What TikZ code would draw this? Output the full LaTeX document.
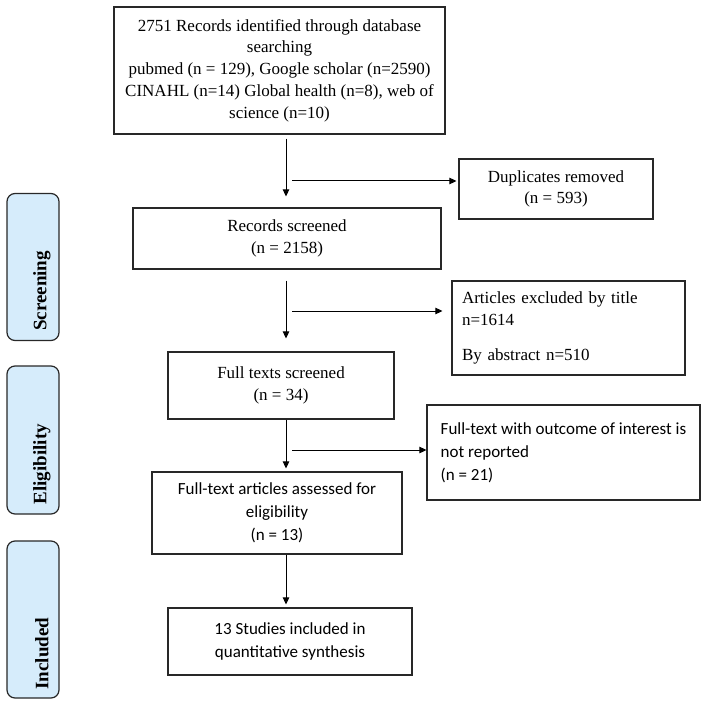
\documentclass[tikz,border=0pt]{standalone}
\usepackage{fontspec}
\setmainfont{Liberation Serif}
\newfontfamily\calibri{Carlito}
\usepackage{tikz}
\usetikzlibrary{arrows.meta}
\usetikzlibrary{positioning}
\definecolor{sideblue}{RGB}{214,236,251}
\definecolor{boxline}{RGB}{40,40,40}

\begin{document}
\begin{tikzpicture}[x=1pt, y=-1pt,
    box/.style={draw=boxline, line width=1.2pt, fill=white, inner sep=0pt,
      align=center, font=\fontsize{17}{21.7}\selectfont},
    cbox/.style={box, font=\calibri\fontsize{17}{22.8}\selectfont},
    side/.style={draw=boxline, line width=1.2pt, fill=sideblue,
      rounded corners=8pt, minimum width=52pt},
    sidetext/.style={rotate=90, anchor=west, inner sep=0pt,
      font=\bfseries\fontsize{19}{22}\selectfont},
    arr/.style={-{Triangle[length=7pt,width=6.5pt]}, line width=1pt}]
  \useasboundingbox (0,0) rectangle (704,727);

  % stage labels on the left
  \node[side, minimum height=147pt] (scr) at (33,267) {};
  \node[side, minimum height=148pt] (elig) at (33,440) {};
  \node[side, minimum height=157pt] (incl) at (33,619.5) {};
  \node[sidetext] at ([shift={(9,-10)}]scr.south) {Screening};
  \node[sidetext] at ([shift={(9,-10)}]elig.south) {Eligibility};
  \node[sidetext] at ([shift={(9,-9)}]incl.south) {Included};

  % main column
  \node[box, minimum width=331pt, minimum height=127pt] (ident) at (279.5,70.5)
    {2751 Records identified through database\\ searching\\
     pubmed (n = 129), Google scholar (n=2590)\\
     CINAHL (n=14) Global health (n=8), web of\\ science (n=10)};
  \node[box, minimum width=308pt, minimum height=61pt] (recs) at (287,238.5)
    {Records screened\\ (n = 2158)};
  \node[box, minimum width=226pt, minimum height=67pt] (full) at (281,385.5)
    {Full texts screened\\ (n = 34)};
  \node[cbox, minimum width=250pt, minimum height=82pt] (assess) at (277,513)
    {Full-text articles assessed for\\ eligibility\\ (n = 13)};
  \node[cbox, minimum width=244pt, minimum height=67pt] (incd) at (290,641.5)
    {13 Studies included in\\ quantitative synthesis};

  % exclusions on the right
  \node[box, minimum width=194pt, minimum height=60pt] (dups) at (556,189)
    {Duplicates removed\\ (n = 593)};
  \node[box, align=left, text width=213pt, inner xsep=10pt, minimum height=94pt]
    (excl) at (568.5,328)
    {Articles excluded by title\\ n=1614\\[14pt] By abstract n=510};
  \node[cbox, align=left, minimum width=273pt, minimum height=95pt]
    (notrep) at (563.5,452.5)
    {Full-text with outcome of interest is\\ not reported\\ (n = 21)};

  % arrows
  \coordinate (spine) at (286,0);
  \draw[arr, shorten <=4pt, shorten >=11pt] (ident.south -| spine) -- (recs.north -| spine);
  \draw[arr, shorten <=11pt, shorten >=13pt] (recs.south -| spine) -- (full.north -| spine);
  \draw[arr, shorten >=3pt] (full.south -| spine) -- (assess.north -| spine);
  \draw[arr, shorten >=3pt] (assess.south -| spine) -- (incd.north -| spine);

  \coordinate (br1) at (292,181);
  \coordinate (br2) at (292,311);
  \coordinate (br3) at (292,450);
  \draw[arr, shorten >=2pt] (br1) -- (br1 -| dups.west);
  \draw[arr, shorten >=9pt] (br2) -- (br2 -| excl.west);
  \draw[arr] (br3) -- (br3 -| notrep.west);
\end{tikzpicture}
\end{document}
